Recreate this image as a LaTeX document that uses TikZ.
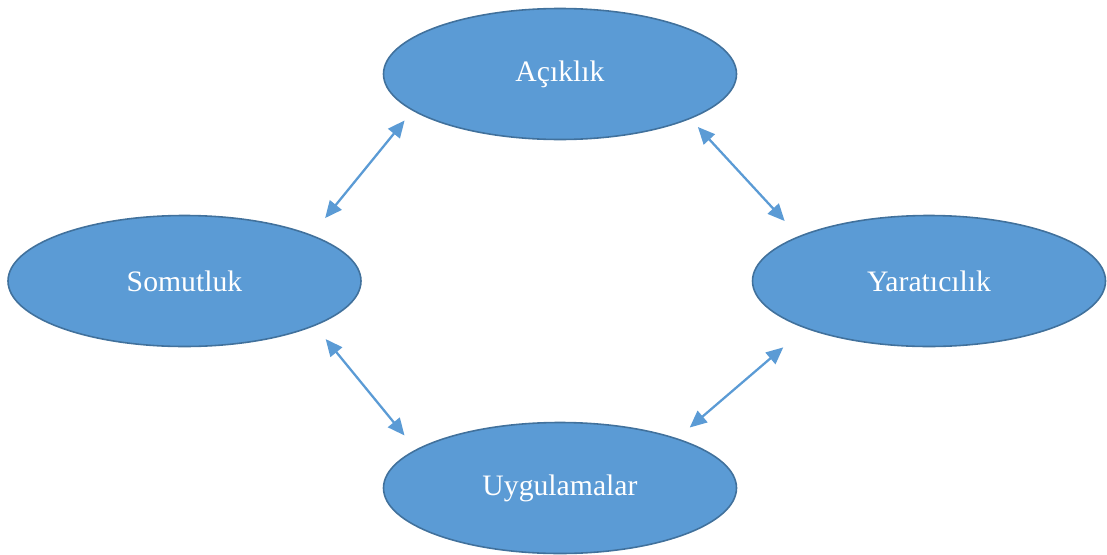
\documentclass[tikz,border=0pt]{standalone}
\usepackage{fontspec}
\setmainfont{Liberation Serif}
\usepackage{xcolor}
\usepackage{tikz}
\usetikzlibrary{arrows.meta}
\usetikzlibrary{shapes.geometric}
\definecolor{bubblefill}{HTML}{5B9BD5}
\definecolor{bubbleline}{HTML}{41719C}
\tikzset{>={Triangle[length=0.34cm,width=0.3cm]}}
\tikzset{bubble/.style={ellipse, draw=bubbleline, line width=0.9pt, fill=bubblefill,
    minimum width=7.06cm, minimum height=2.62cm, inner sep=0pt, text=white,
    font=\fontsize{16.9}{20}\selectfont},
  link/.style={<->, draw=bubblefill, line width=1.3pt}}

\begin{document}
\begin{tikzpicture}
                \useasboundingbox (0,0) rectangle (22.14,-11.08);
                \node[bubble] (acik) at (11.2,-1.48) {Açıklık};
                \node[bubble] (somut) at (3.69,-5.62) {Somutluk};
                \node[bubble] (yarat) at (18.58,-5.62) {Yaratıcılık};
                \node[bubble] (uygu) at (11.2,-9.76) {Uygulamalar};
                \draw[link, shorten <=0.43cm, shorten >=0.25cm] (somut.20) -- (acik.194);
                \draw[link, shorten <=0.22cm, shorten >=0.41cm] (acik.341) -- (yarat.161);
                \draw[link, shorten <=0.34cm, shorten >=0.36cm] (somut.341) -- (uygu.165);
                \draw[link, shorten <=0.58cm, shorten >=0.33cm] (yarat.201) -- (uygu.23);
            \end{tikzpicture}
\end{document}
